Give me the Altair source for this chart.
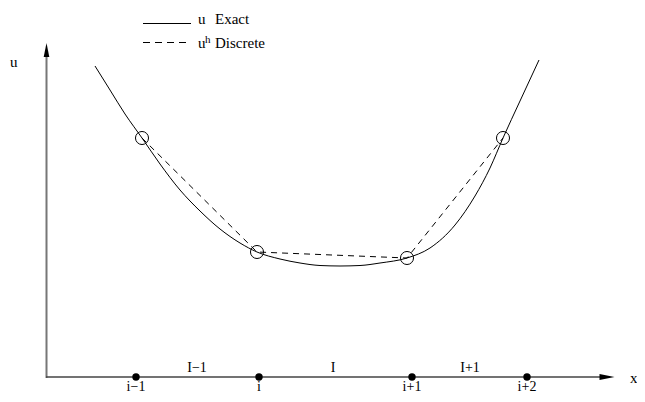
import altair as alt
import pandas as pd

# Exact solution u, sampled along the drawn curve (picture units, y downward)
curve_x = [95, 110, 125, 142, 160, 180, 200, 220, 240, 257, 280, 300, 320, 340,
           360, 380, 407, 430, 455, 475, 490, 503, 520, 539]
curve_u = [66, 90, 114, 138, 164, 190, 211, 229, 243, 252, 259, 263, 265.5, 266,
           265.5, 263, 258, 248, 225, 196, 168, 138, 101, 60]

# Discrete solution u^h (circles joined by dashed line)
disc_x = [142, 257, 407, 503]
disc_u = [138, 252, 258, 138]

# Grid nodes on the x axis
node_x = [136, 259, 412, 527]
node_labels = ["i\u22121", "i", "i+1", "i+2"]

# Cell (interval) labels
cell_x = [197, 333, 470]
cell_labels = ["I\u22121", "I", "I+1"]

FONT = "Liberation Serif"
XS = alt.Scale(domain=[8, 637], nice=False, zero=False)
YS = alt.Scale(domain=[8, 394], nice=False, zero=False, reverse=True)


def X(f="x"):
    return alt.X(f"{f}:Q", scale=XS, axis=None)


def Y(f="y"):
    return alt.Y(f"{f}:Q", scale=YS, axis=None)


curve_df = pd.DataFrame({"x": curve_x, "y": curve_u})
disc_df = pd.DataFrame({"x": disc_x, "y": disc_u})
node_df = pd.DataFrame({"x": node_x, "y": [377] * len(node_x), "label": node_labels})
node_lab_df = pd.DataFrame({"x": node_x, "y": [390.5] * len(node_x), "label": node_labels})
cell_df = pd.DataFrame({"x": cell_x, "y": [372] * len(cell_x), "label": cell_labels})

# axes
yaxis = alt.Chart(pd.DataFrame({"x": [46.5], "y": [52], "y2": [378]})).mark_rule(
    color="#777777", strokeWidth=2).encode(x=X(), y=Y(), y2="y2:Q")
xaxis = alt.Chart(pd.DataFrame({"x": [46], "x2": [604], "y": [377]})).mark_rule(
    color="#444444", strokeWidth=1.5).encode(x=X(), x2="x2:Q", y=Y())

up_arrow = alt.Chart(pd.DataFrame({"x": [46.5], "y": [50]})).mark_point(
    shape="M0,-1L-0.4,1L0.4,1Z", size=196, filled=True, color="black", opacity=1
).encode(x=X(), y=Y())
right_arrow = alt.Chart(pd.DataFrame({"x": [607], "y": [377]})).mark_point(
    shape="M1,0L-1,-0.4L-1,0.4Z", size=225, filled=True, color="black", opacity=1
).encode(x=X(), y=Y())

exact = alt.Chart(curve_df).mark_line(
    color="black", strokeWidth=1, interpolate="monotone").encode(x=X(), y=Y())
discrete = alt.Chart(disc_df).mark_line(
    color="black", strokeWidth=1, strokeDash=[6, 5]).encode(x=X(), y=Y())
circles = alt.Chart(disc_df).mark_point(
    shape="circle", size=170, filled=False, color="black", strokeWidth=1, opacity=1
).encode(x=X(), y=Y())

nodes = alt.Chart(node_df).mark_point(
    shape="circle", size=55, filled=True, color="black", opacity=1
).encode(x=X(), y=Y())
node_text = alt.Chart(node_lab_df).mark_text(
    font=FONT, fontSize=14, baseline="alphabetic", color="black"
).encode(x=X(), y=Y(), text="label:N")
cell_text = alt.Chart(cell_df).mark_text(
    font=FONT, fontSize=14, baseline="alphabetic", color="black"
).encode(x=X(), y=Y(), text="label:N")

# axis names
ax_lab_df = pd.DataFrame({"x": [10, 630], "y": [67, 383], "label": ["u", "x"]})
ax_text = alt.Chart(ax_lab_df).mark_text(
    font=FONT, fontSize=15, align="left", baseline="alphabetic", color="black"
).encode(x=X(), y=Y(), text="label:N")

# legend
leg_solid = alt.Chart(pd.DataFrame({"x": [143], "x2": [191], "y": [23.5]})).mark_rule(
    color="black", strokeWidth=1).encode(x=X(), x2="x2:Q", y=Y())
leg_dash = alt.Chart(pd.DataFrame({"x": [143], "x2": [186], "y": [42.5]})).mark_rule(
    color="black", strokeWidth=1, strokeDash=[7, 5]).encode(x=X(), x2="x2:Q", y=Y())
leg_df = pd.DataFrame({"x": [198, 215, 198, 215], "y": [24, 24, 48, 48],
                       "label": ["u", "Exact", "u", "Discrete"]})
leg_text = alt.Chart(leg_df).mark_text(
    font=FONT, fontSize=15, align="left", baseline="alphabetic", color="black"
).encode(x=X(), y=Y(), text="label:N")
sup_text = alt.Chart(pd.DataFrame({"x": [205], "y": [43], "label": ["h"]})).mark_text(
    font=FONT, fontSize=11, align="left", baseline="alphabetic", color="black"
).encode(x=X(), y=Y(), text="label:N")

chart = alt.layer(
    yaxis, xaxis, up_arrow, right_arrow, exact, discrete, circles, nodes,
    node_text, cell_text, ax_text, leg_solid, leg_dash, leg_text, sup_text
).properties(
    width=629, height=386, padding=0,
    autosize=alt.AutoSizeParams(type="none")
).configure_view(stroke=None)

chart.save("out.html", embed_options={"renderer": "svg", "actions": False})
